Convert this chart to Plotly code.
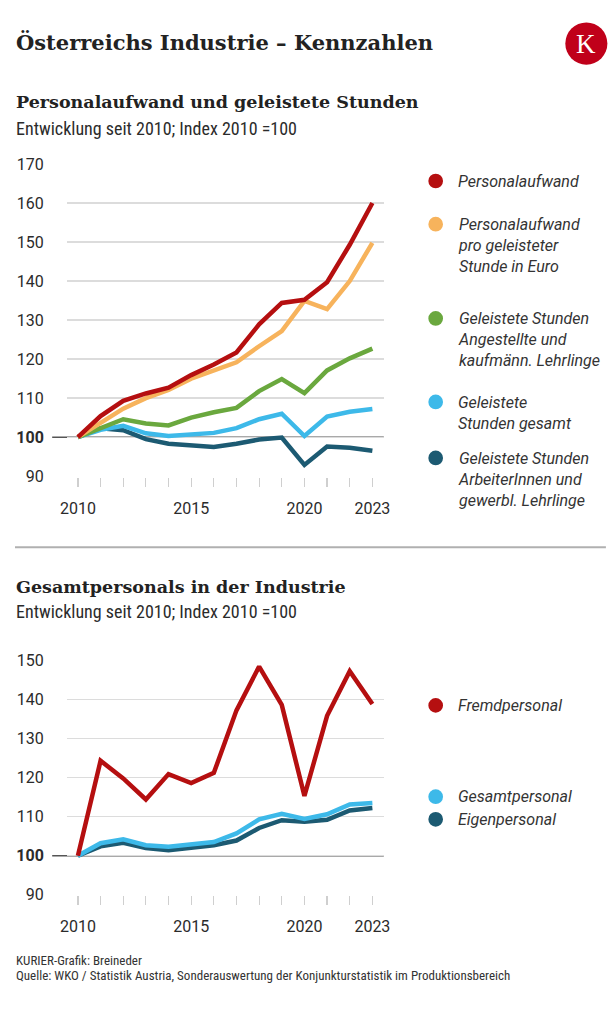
import plotly.graph_objects as go

# The page keeps the browser's default 8px body margin, so the figure is sized
# to fill the 616x1017 window exactly together with that margin.
PAGE_W, PAGE_H = 616, 1017
M = 8
W, H = PAGE_W - 2 * M, PAGE_H - 2 * M

years = list(range(2010, 2024))
xtick_text = ["2010", "", "", "", "", "2015", "", "", "", "", "2020", "", "", "2023"]

# Top chart: Personalaufwand und geleistete Stunden (Index 2010 = 100)
personalaufwand = [100, 105.4, 109.3, 111.2, 112.7, 115.9, 118.6, 121.7, 128.9, 134.4, 135.2, 139.7, 149.3, 160.0]
pa_pro_stunde = [100, 103.6, 107.3, 110.0, 112.1, 115.0, 117.2, 119.2, 123.3, 127.2, 134.9, 132.8, 140.0, 149.8]
std_angestellte = [100, 102.4, 104.6, 103.5, 103.0, 105.0, 106.4, 107.5, 111.8, 114.9, 111.3, 117.1, 120.2, 122.7]
std_gesamt = [100, 101.9, 102.9, 101.0, 100.3, 100.6, 101.1, 102.3, 104.6, 106.0, 100.3, 105.3, 106.5, 107.2]
std_arbeiter = [100, 102.3, 101.8, 99.5, 98.3, 97.9, 97.5, 98.3, 99.4, 99.9, 92.9, 97.6, 97.3, 96.5]

# Bottom chart: Gesamtpersonal in der Industrie (Index 2010 = 100)
fremdpersonal = [100, 124.3, 119.8, 114.4, 120.9, 118.6, 121.2, 137.2, 148.4, 138.6, 115.3, 135.8, 147.2, 138.8]
gesamtpersonal = [100, 103.2, 104.2, 102.7, 102.3, 102.9, 103.5, 105.7, 109.3, 110.7, 109.4, 110.6, 113.1, 113.5]
eigenpersonal = [100, 102.4, 103.3, 102.0, 101.4, 102.0, 102.7, 103.9, 107.1, 109.1, 108.7, 109.2, 111.6, 112.2]

top_ticks = [90, 100, 110, 120, 130, 140, 150, 160, 170]
bottom_ticks = [90, 100, 110, 120, 130, 140, 150]

RED = "#b50f10"
ORANGE = "#f7b35c"
GREEN = "#6aa83e"
LBLUE = "#3db9e9"
DARK = "#1c5a72"

top_series = [
    ("Geleistete Stunden<br>ArbeiterInnen und<br>gewerbl. Lehrlinge", std_arbeiter, DARK, 457),
    ("Geleistete<br>Stunden gesamt", std_gesamt, LBLUE, 400),
    ("Geleistete Stunden<br>Angestellte und<br>kaufmänn. Lehrlinge", std_angestellte, GREEN, 315),
    ("Personalaufwand<br>pro geleisteter<br>Stunde in Euro", pa_pro_stunde, ORANGE, 219),
    ("Personalaufwand", personalaufwand, RED, 175),
]
bottom_series = [
    ("Eigenpersonal", eigenpersonal, DARK, 825),
    ("Gesamtpersonal", gesamtpersonal, LBLUE, 802),
    ("Fremdpersonal", fremdpersonal, RED, 709),
]

def px(x):
    return (x - M) / W

def py(y):
    return 1 - (y - M) / H

TXT = "#2b2b2b"
SANS = "Roboto, Liberation Sans, sans-serif"
COND = "Roboto Condensed, Liberation Sans Narrow, Roboto, sans-serif"
SLAB = "Roboto Slab, DejaVu Serif, serif"

fig = go.Figure()

for name, vals, col, _ in top_series:
    fig.add_trace(go.Scatter(x=years, y=vals, mode="lines", name=name.replace("<br>", " "),
                             line=dict(color=col, width=4.5), xaxis="x", yaxis="y",
                             showlegend=False, hoverinfo="skip"))
for name, vals, col, _ in bottom_series:
    fig.add_trace(go.Scatter(x=years, y=vals, mode="lines", name=name,
                             line=dict(color=col, width=4.5), xaxis="x2", yaxis="y2",
                             showlegend=False, hoverinfo="skip"))

xrange = [2010 - 11.3 / 23.15, 2023 + 11.7 / 23.15]

def xaxis_cfg(anchor):
    return dict(domain=[px(61), px(385)], range=xrange, anchor=anchor,
                tickvals=years, ticktext=xtick_text, ticks="outside", ticklen=9,
                tickcolor="#cfcfcf", tickwidth=1.2, showgrid=False, zeroline=False,
                showline=False, tickfont=dict(family=SANS, size=16, color=TXT),
                ticklabelstandoff=8, fixedrange=True)

def yaxis_cfg(anchor, dom, ticks, rng):
    return dict(domain=dom, range=rng, anchor=anchor, tickvals=ticks,
                ticktext=[("<b>100</b>" if t == 100 else str(t)) for t in ticks],
                showgrid=True, gridcolor="#dcdcdc", gridwidth=1.3, zeroline=False,
                showline=False, ticks="", tickfont=dict(family=SANS, size=16, color=TXT),
                ticklabelstandoff=22, fixedrange=True)

fig.update_layout(
    width=W, height=H, margin=dict(l=0, r=0, t=0, b=0),
    paper_bgcolor="white", plot_bgcolor="white",
    xaxis=xaxis_cfg("y"),
    yaxis=yaxis_cfg("x", [py(476), py(157.3)], top_ticks, [89.9, 170.1]),
    xaxis2=xaxis_cfg("y2"),
    yaxis2=yaxis_cfg("x2", [py(902.3), py(662.7)], bottom_ticks, [89.9, 150.1]),
)

shapes = []
shapes.append(dict(type="line", xref="paper", yref="y", x0=px(46), x1=px(385), y0=100, y1=100,
                   line=dict(color="#555555", width=1.5), layer="below"))
shapes.append(dict(type="line", xref="paper", yref="y2", x0=px(46), x1=px(385), y0=100, y1=100,
                   line=dict(color="#555555", width=1.5), layer="below"))
shapes.append(dict(type="line", xref="paper", yref="paper", x0=0, x1=px(612), y0=py(548), y1=py(548),
                   line=dict(color="#b0b0b0", width=2)))
shapes.append(dict(type="circle", xref="paper", yref="paper", x0=px(592 - 21.5), x1=px(592 + 21.5),
                   y0=py(35 + 21.5), y1=py(35 - 21.5), fillcolor="#c0001a", line=dict(width=0)))

annotations = []

def text(t, x, y, size, family, color=TXT, xanchor="left", yanchor="middle", bold=False, italic=False):
    if bold:
        t = "<b>" + t + "</b>"
    if italic:
        t = "<i>" + t + "</i>"
    annotations.append(dict(text=t, x=px(x), y=py(y), xref="paper", yref="paper",
                            xanchor=xanchor, yanchor=yanchor, showarrow=False,
                            font=dict(family=family, size=size, color=color), align="left"))

LX = 7
text("Österreichs Industrie – Kennzahlen", LX, 34, 21, SLAB, color="#222222", bold=True)
text("K", 592, 36, 27, "Liberation Serif, DejaVu Serif, serif", color="white", xanchor="center")
text("Personalaufwand und geleistete Stunden", LX, 95, 17.5, SLAB, color="#222222", bold=True)
text("Entwicklung seit 2010; Index 2010 =100", LX, 122, 18, COND)
text("Gesamtpersonals in der Industrie", LX, 588, 17.5, SLAB, color="#222222", bold=True)
text("Entwicklung seit 2010; Index 2010 =100", LX, 613, 18, COND)
text("KURIER-Grafik: Breineder", LX, 968.5, 13, COND, color="#333333")
text("Quelle: WKO / Statistik Austria, Sonderauswertung der Konjunkturstatistik im Produktionsbereich",
     LX, 984.5, 13, COND, color="#333333")

for name, vals, col, my in top_series + bottom_series:
    shapes.append(dict(type="circle", xref="paper", yref="paper", x0=px(438 - 7.5), x1=px(438 + 7.5),
                       y0=py(my + 7.5), y1=py(my - 7.5), fillcolor=col, line=dict(width=0)))
    text(name, 459, my - 11.5, 16, SANS, color="#333333", yanchor="top", italic=True)

fig.update_layout(shapes=shapes, annotations=annotations)
fig.write_html("out.html", config={"displayModeBar": False, "staticPlot": True})
